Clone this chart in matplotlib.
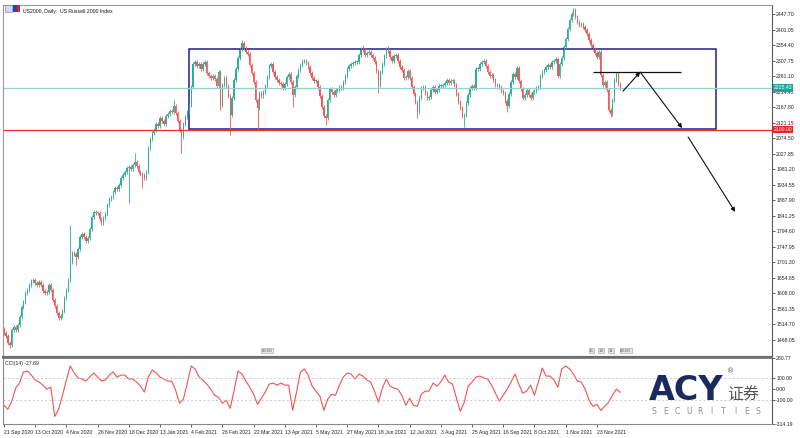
import numpy as np
import matplotlib.pyplot as plt
from matplotlib.patches import Rectangle
from matplotlib.transforms import blended_transform_factory

# US2000 daily closes, 21 Sep 2020 .. 10 Dec 2021
closes = [
    1490, 1480, 1459, 1453, 1498, 1507, 1498, 1513, 1537, 1567,
    1582, 1609, 1618, 1633, 1645, 1648, 1639, 1633, 1642, 1633,
    1615, 1609, 1612, 1633, 1618, 1588, 1570, 1549, 1534, 1540,
    1555, 1594, 1618, 1648, 1702, 1730, 1727, 1718, 1742, 1778,
    1787, 1778, 1766, 1775, 1802, 1838, 1853, 1850, 1850, 1832,
    1820, 1835, 1847, 1874, 1892, 1898, 1913, 1925, 1922, 1934,
    1955, 1964, 1973, 1985, 1988, 1982, 1994, 2003, 1991, 1973,
    1967, 1964, 1955, 1973, 2045, 2072, 2090, 2099, 2117, 2111,
    2135, 2126, 2117, 2141, 2147, 2156, 2153, 2171, 2150, 2126,
    2099, 2078, 2117, 2138, 2153, 2174,
    2228, 2298, 2304, 2292, 2298, 2283, 2298, 2304, 2270, 2261,
    2255, 2261, 2252, 2231, 2273, 2174, 2234, 2255, 2231, 2201,
    2144, 2195, 2249, 2283, 2316, 2343, 2361, 2346, 2334, 2328,
    2295, 2270, 2243, 2189, 2165, 2210, 2201, 2213, 2231, 2258,
    2292, 2298, 2273, 2258, 2249, 2240, 2237, 2225, 2237, 2258,
    2267, 2243, 2204, 2228, 2261, 2279, 2295, 2307, 2307, 2301,
    2289, 2270, 2255, 2246, 2246, 2228, 2201, 2168, 2141, 2135,
    2189, 2222, 2213, 2204, 2219, 2219, 2228, 2225, 2243, 2261,
    2283, 2292, 2298, 2301, 2304, 2304, 2325, 2343, 2340, 2325,
    2331, 2334, 2325, 2316, 2304, 2276, 2234, 2273, 2298, 2322,
    2343, 2337, 2319, 2307, 2322, 2325, 2307, 2289, 2279, 2255,
    2258, 2276, 2255, 2228, 2207, 2183, 2153, 2195, 2225, 2228,
    2210, 2195, 2198, 2219, 2228, 2213, 2219, 2231, 2231, 2234,
    2240, 2249, 2240, 2246, 2246, 2234, 2207, 2183, 2165, 2141,
    2144, 2180, 2204, 2225, 2231, 2225, 2283, 2283, 2298, 2304,
    2307, 2292, 2273, 2261, 2264, 2249, 2234, 2234, 2228, 2216,
    2210, 2186, 2171, 2207, 2243, 2267, 2258, 2286, 2246, 2222,
    2195, 2204, 2219, 2204, 2195, 2213, 2216, 2225, 2228, 2261,
    2273, 2279, 2289, 2295, 2289, 2304, 2307, 2313, 2261, 2298,
    2316, 2349, 2373, 2403, 2430, 2448, 2460, 2439, 2424, 2415,
    2418, 2409, 2400, 2388, 2370, 2355, 2343, 2331, 2319, 2334,
    2264, 2234, 2243, 2219, 2159, 2147, 2189, 2249, 2267, 2237, 2225.43,
]
first_open = 1500
# the long shadows visible on the chart
long_highs = {34: 1814, 67: 2030, 87: 2189, 122: 2370, 184: 2355, 197: 2352, 292: 2466}
long_lows = {3: 1443, 37: 1694, 64: 1880, 71: 1925, 91: 2030, 111: 2159, 116: 2084,
             130: 2099, 148: 2168, 165: 2114, 192: 2210, 212: 2135, 236: 2108,
             258: 2153, 311: 2138}

# CCI(14), every second bar
cci = [
    -146, -182, -109, 9, 55, 155, 164, 127, 82, 64,
    36, 0, 18, -246, -182, -55, 82, 209, 146, 100,
    91, 73, 109, 146, 109, 73, 82, 127, 155, 109,
    127, 127, 91, 91, 64, 27, -27, 109, 173, 146,
    109, 91, 73, 73, -9, -127, -91, 55, 209, 182,
    109, 82, 45, 0, -55, -73, -127, -100, -173, -9,
    164, 136, 73, 18, -46, -137, -82, -27, 45, 55,
    36, 55, 36, 36, -191, -27, 155, 182, 127, 27,
    -18, -64, -191, -91, -46, -55, 36, 109, 146, 136,
    91, 136, 118, 82, 64, -18, -118, 9, 91, 27,
    9, 0, -55, -146, -82, -146, -155, -46, -18, -18,
    55, 27, 64, 127, 64, 45, -82, -200, -118, 27,
    64, 109, 118, 100, 91, 36, -36, -109, -55, 0,
    64, 136, 45, -36, -18, 36, -55, 64, 191, 118,
    118, 82, 18, 182, 209, 182, 136, 73, 64, 0,
    -100, -155, -137, -191, -155, -118, -55, 0, -27.69,
]

date_labels = ['21 Sep 2020', '13 Oct 2020', '4 Nov 2020', '26 Nov 2020', '18 Dec 2020',
               '13 Jan 2021', '4 Feb 2021', '26 Feb 2021', '22 Mar 2021', '13 Apr 2021',
               '5 May 2021', '27 May 2021', '18 Jun 2021', '12 Jul 2021', '3 Aug 2021',
               '25 Aug 2021', '16 Sep 2021', '8 Oct 2021', '1 Nov 2021', '23 Nov 2021']
price_ticks = [2447.70, 2401.05, 2354.40, 2307.75, 2261.10, 2214.45, 2167.80, 2121.15,
               2074.50, 2027.85, 1981.20, 1934.55, 1887.90, 1841.25, 1794.60, 1747.95,
               1701.30, 1654.65, 1608.00, 1561.35, 1514.70, 1468.05]
cci_ticks = [280.77, 100.00, 0.00, -100.00, -314.19]

bid_line = 2225.43
support = 2100.00
range_box = (95, 365, 2101, 2342.6)      # bar from, bar to, low, high
resist = (302, 347, 2273.4)
arrows = [((317.4, 2216), (326.2, 2273.4)),
          ((326.2, 2273.4), (347.7, 2105)),
          ((350.8, 2078), (374.9, 1853))]

UP = '#2fb094'
DN = '#ef5b5b'
FS = 3.7
plt.rcParams['font.family'] = ['Liberation Sans', 'DejaVu Sans']

fig = plt.figure(figsize=(8, 4.38), dpi=100)
W, H = 800, 438
def fx(px): return px / W
def fy(py): return 1 - py / H

ax = fig.add_axes([fx(3), fy(357), fx(772) - fx(3), fy(5) - fy(357)])
ax2 = fig.add_axes([fx(3), fy(424), fx(772) - fx(3), fy(358) - fy(424)], sharex=ax)

# candles
c = np.array(closes, float)
o = np.r_[first_open, c[:-1]]
x = np.arange(len(c))
hi = np.maximum(o, c) + 6
lo = np.minimum(o, c) - 6
for k, v in long_highs.items():
    hi[k] = v
for k, v in long_lows.items():
    lo[k] = v
col = np.where(c >= o, UP, DN)
ax.vlines(x, lo, hi, colors=col, lw=0.6)
body = np.where(np.abs(c - o) < 2, 2, c - o)
ax.bar(x, body, bottom=o, width=0.7, color=col, linewidth=0)

ax.axhline(bid_line, color='#8fd6cf', lw=0.9)
ax.axhline(support, color='#ff2a2a', lw=0.9)
b0, b1, blo, bhi = range_box
ax.add_patch(Rectangle((b0, blo), b1 - b0, bhi - blo, fill=False, ec='#1f1f8a', lw=1.1))
ax.hlines(resist[2], resist[0], resist[1], color='#111111', lw=0.9)
for (a, b) in arrows:
    ax.annotate('', xy=b, xytext=a,
                arrowprops=dict(arrowstyle='-|>', color='#111111', lw=0.8, mutation_scale=6,
                                shrinkA=0, shrinkB=0))

ax.set_xlim(-0.5, 393.8)
ax.set_ylim(1417, 2474.8)
ax.yaxis.tick_right()
ax.set_yticks(price_ticks)
ax.set_yticklabels(['%.2f' % v for v in price_ticks])
ax.tick_params(axis='y', length=2, width=0.5, pad=1, labelsize=FS, colors='#222222')
ax.tick_params(axis='x', bottom=False, labelbottom=False)
for s in ['left', 'top']:
    ax.spines[s].set_color('#9a9a9a')
    ax.spines[s].set_linewidth(0.8)
ax.spines['right'].set_color('#555555')
ax.spines['right'].set_linewidth(0.8)
ax.spines['bottom'].set_color('#6e6e6e')
ax.spines['bottom'].set_linewidth(1.6)

# price labels on the axis
tr = blended_transform_factory(ax.transAxes, ax.transData)
ax.text(1.002, bid_line, '%.2f' % bid_line, transform=tr, fontsize=FS, color='white',
        va='center', ha='left', bbox=dict(boxstyle='square,pad=0.2', fc='#1aa79a', ec='none'))
ax.text(1.002, support, '%.2f' % support, transform=tr, fontsize=FS, color='white',
        va='center', ha='left', bbox=dict(boxstyle='square,pad=0.2', fc='#ff1c1c', ec='none'))

# object time labels at the bottom of the price window
for xp, s in [(132, '00:00'), (300, '15'), (305, '19'), (310, '11'), (316, '00:00')]:
    ax.text(xp, 0.012, s, transform=blended_transform_factory(ax.transData, ax.transAxes),
            fontsize=3.2, color='#555555', va='bottom', ha='left',
            bbox=dict(boxstyle='square,pad=0.12', fc='#e8e8e8', ec='#9a9a9a', lw=0.4))

ax.text(0.026, 0.99, 'US2000, Daily:  US Russell 2000 Index', transform=ax.transAxes,
        fontsize=FS, va='top', ha='left', color='#111111')
fig.patches.append(Rectangle((fx(5), fy(12)), fx(7), 7 / H, transform=fig.transFigure,
                             fc='#d8d8e8', ec='#7777aa', lw=0.4))
fig.patches.append(Rectangle((fx(13), fy(12)), fx(4), 7 / H, transform=fig.transFigure,
                             fc='#2244bb', ec='none'))
fig.patches.append(Rectangle((fx(17), fy(12)), fx(3), 7 / H, transform=fig.transFigure,
                             fc='#dd2222', ec='none'))

# CCI window
ax2.plot(np.arange(0, len(closes), 2), cci, color='#f25252', lw=0.8)
ax2.axhline(100, color='#bbbbbb', lw=0.5, ls=(0, (3, 3)))
ax2.axhline(-100, color='#bbbbbb', lw=0.5, ls=(0, (3, 3)))
ax2.set_ylim(-314.19, 280.77)
ax2.yaxis.tick_right()
ax2.set_yticks(cci_ticks)
ax2.set_yticklabels(['%.2f' % v for v in cci_ticks])
ax2.tick_params(axis='y', length=2, width=0.5, pad=1, labelsize=FS, colors='#222222')
ax2.set_xticks(np.arange(0, 16 * len(date_labels), 16))
ax2.set_xticklabels(date_labels, ha='left')
ax2.tick_params(axis='x', length=2, width=0.5, pad=2, labelsize=FS, colors='#222222')
for s in ['left', 'bottom']:
    ax2.spines[s].set_color('#8a8a8a')
ax2.spines['top'].set_color('#6e6e6e')
ax2.spines['top'].set_linewidth(1.2)
ax2.spines['right'].set_color('#555555')
ax2.text(0.002, 0.96, 'CCI(14) -27.69', transform=ax2.transAxes, fontsize=FS,
         va='top', ha='left', color='#222222')

# ACY logo
fig.text(fx(649), fy(400), 'ACY', fontsize=24, fontweight='bold', color='#1a2a5e',
         family='DejaVu Sans', ha='left', va='baseline')
fig.text(fx(727), fy(371), '\u00ae', fontsize=5, color='#555555', family='DejaVu Sans',
         ha='left', va='center')
fig.text(fx(727), fy(400), '证券', fontsize=11.5, color='#555555',
         family=['Noto Sans CJK SC', 'DejaVu Sans'], ha='left', va='baseline')
for xp, ch in zip(np.linspace(654, 758, 10), 'SECURITIES'):
    fig.text(fx(xp), fy(411), ch, fontsize=5.5, color='#8a8a8a', family='DejaVu Sans',
             ha='center', va='center')

fig.savefig('out.png', dpi=100, facecolor='white')
